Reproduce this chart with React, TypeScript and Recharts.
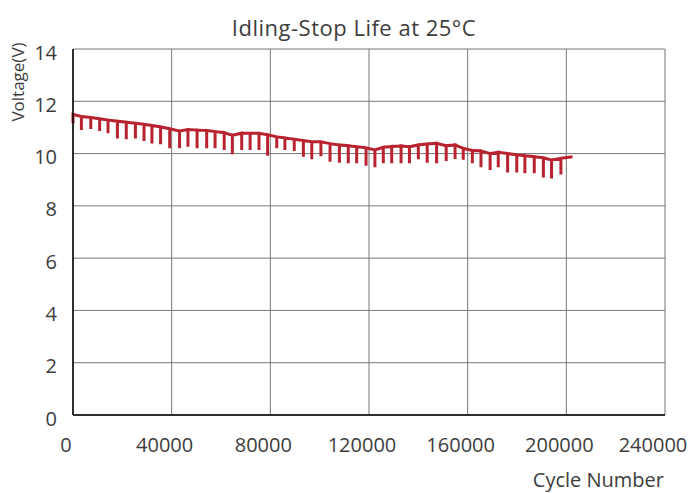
import { LineChart, Line, XAxis, YAxis, CartesianGrid } from "recharts";

// cycle number of each periodic dip, the plateau voltage there and the dip bottom
const dipCycles = [
  0, 3400, 7200, 10800, 14200, 18000, 21600, 25300, 28800, 32000,
  35500, 39200, 43200, 46600, 50300, 54200, 57600, 61300, 64600, 68400,
  71800, 75400, 78900, 82600, 85900, 89700, 93400, 96800, 100500, 104200,
  108000, 111600, 115000, 118800, 122400, 125800, 129200, 133000, 136400, 140000,
  143600, 147400, 151300, 154900, 158200, 161900, 165400, 169100, 172400, 176200,
  179900, 183200, 187000, 190700, 194000, 197800,
];
const baseVolts = [
  11.5, 11.42, 11.38, 11.33, 11.28, 11.24, 11.2, 11.16, 11.12, 11.07,
  11.02, 10.95, 10.86, 10.92, 10.9, 10.88, 10.84, 10.8, 10.7, 10.78,
  10.78, 10.78, 10.72, 10.64, 10.6, 10.55, 10.5, 10.45, 10.45, 10.38,
  10.33, 10.3, 10.26, 10.22, 10.14, 10.24, 10.27, 10.29, 10.26, 10.33,
  10.37, 10.39, 10.3, 10.33, 10.2, 10.12, 10.1, 10.0, 10.05, 10.0,
  9.95, 9.92, 9.88, 9.84, 9.75, 9.82,
];
const dipVolts = [
  11.16, 10.9, 10.94, 10.86, 10.78, 10.58, 10.55, 10.58, 10.48, 10.39,
  10.36, 10.2, 10.2, 10.26, 10.2, 10.2, 10.2, 10.14, 9.97, 10.14,
  10.14, 10.14, 9.92, 10.2, 10.14, 10.1, 9.88, 9.78, 9.9, 9.69,
  9.65, 9.63, 9.63, 9.53, 9.48, 9.63, 9.63, 9.63, 9.63, 9.78,
  9.65, 9.63, 9.72, 9.79, 9.76, 9.63, 9.48, 9.37, 9.48, 9.28,
  9.28, 9.25, 9.25, 9.08, 9.05, 9.2,
];
const lastCycle = 202500;
const lastVolt = 9.88;

const xTicks = [0, 40000, 80000, 120000, 160000, 200000, 240000];
const yTicks = [0, 2, 4, 6, 8, 10, 12, 14];

const data: { cycle: number; volt: number }[] = [];
dipCycles.forEach((c, i) => {
  data.push({ cycle: c, volt: baseVolts[i] });
  data.push({ cycle: c, volt: dipVolts[i] });
  data.push({ cycle: c, volt: baseVolts[i] });
});
data.push({ cycle: lastCycle, volt: lastVolt });

const FONT = "'Open Sans', sans-serif";
const TEXT = "#3d3d3d";

function XTick({ x, y, payload }: any) {
  const shift = payload.value === 240000 ? -12 : -7;
  return (
    <text x={x + shift} y={y + 37} textAnchor="middle" fontSize={20} fill={TEXT} fontFamily={FONT}>
      {payload.value}
    </text>
  );
}

function YTick({ x, y, payload }: any) {
  return (
    <text x={x - 16} y={y + 3} textAnchor="end" dominantBaseline="central" fontSize={20} fill={TEXT} fontFamily={FONT}>
      {payload.value}
    </text>
  );
}

export default function App() {
  return (
    <div style={{ position: "absolute", left: 0, top: 0, width: 691, height: 493, background: "#fff", fontFamily: FONT }}>
      <div
        style={{
          position: "absolute", left: 0, top: 14, width: 708, textAlign: "center",
          fontSize: 22, lineHeight: "26px", letterSpacing: 0.5, color: TEXT,
        }}
      >
        Idling-Stop Life at 25°C
      </div>
      <div
        style={{
          position: "absolute", left: 18, top: 82, width: 0, height: 0,
        }}
      >
        <div
          style={{
            position: "absolute", left: -60, top: -12, width: 120, textAlign: "center",
            fontSize: 17, lineHeight: "24px", color: TEXT, transform: "rotate(-90deg)",
            whiteSpace: "nowrap",
          }}
        >
          Voltage(V)
        </div>
      </div>
      <LineChart width={691} height={493} data={data} margin={{ top: 49, right: 26, bottom: 0, left: 0 }}>
        <CartesianGrid stroke="#777" strokeWidth={1} horizontalValues={yTicks} verticalValues={xTicks} />
        <XAxis
          dataKey="cycle"
          type="number"
          domain={[0, 240000]}
          ticks={xTicks}
          height={78}
          tickSize={0}
          tickMargin={0}
          tickLine={false}
          axisLine={{ stroke: "#000", strokeWidth: 1.5 }}
          tick={<XTick />}
          interval={0}
          label={{
            value: "Cycle Number", position: "insideBottomRight", offset: 6,
            fontSize: 20, fill: TEXT, fontFamily: FONT, dx: 5,
          }}
        />
        <YAxis
          type="number"
          domain={[0, 14]}
          ticks={yTicks}
          width={73}
          tickSize={0}
          tickMargin={0}
          tickLine={false}
          axisLine={{ stroke: "#000", strokeWidth: 1.5 }}
          tick={<YTick />}
          interval={0}
        />
        <Line
          dataKey="volt"
          type="linear"
          stroke="#b8232f"
          strokeWidth={3}
          dot={false}
          activeDot={false}
          isAnimationActive={false}
        />
      </LineChart>
    </div>
  );
}
